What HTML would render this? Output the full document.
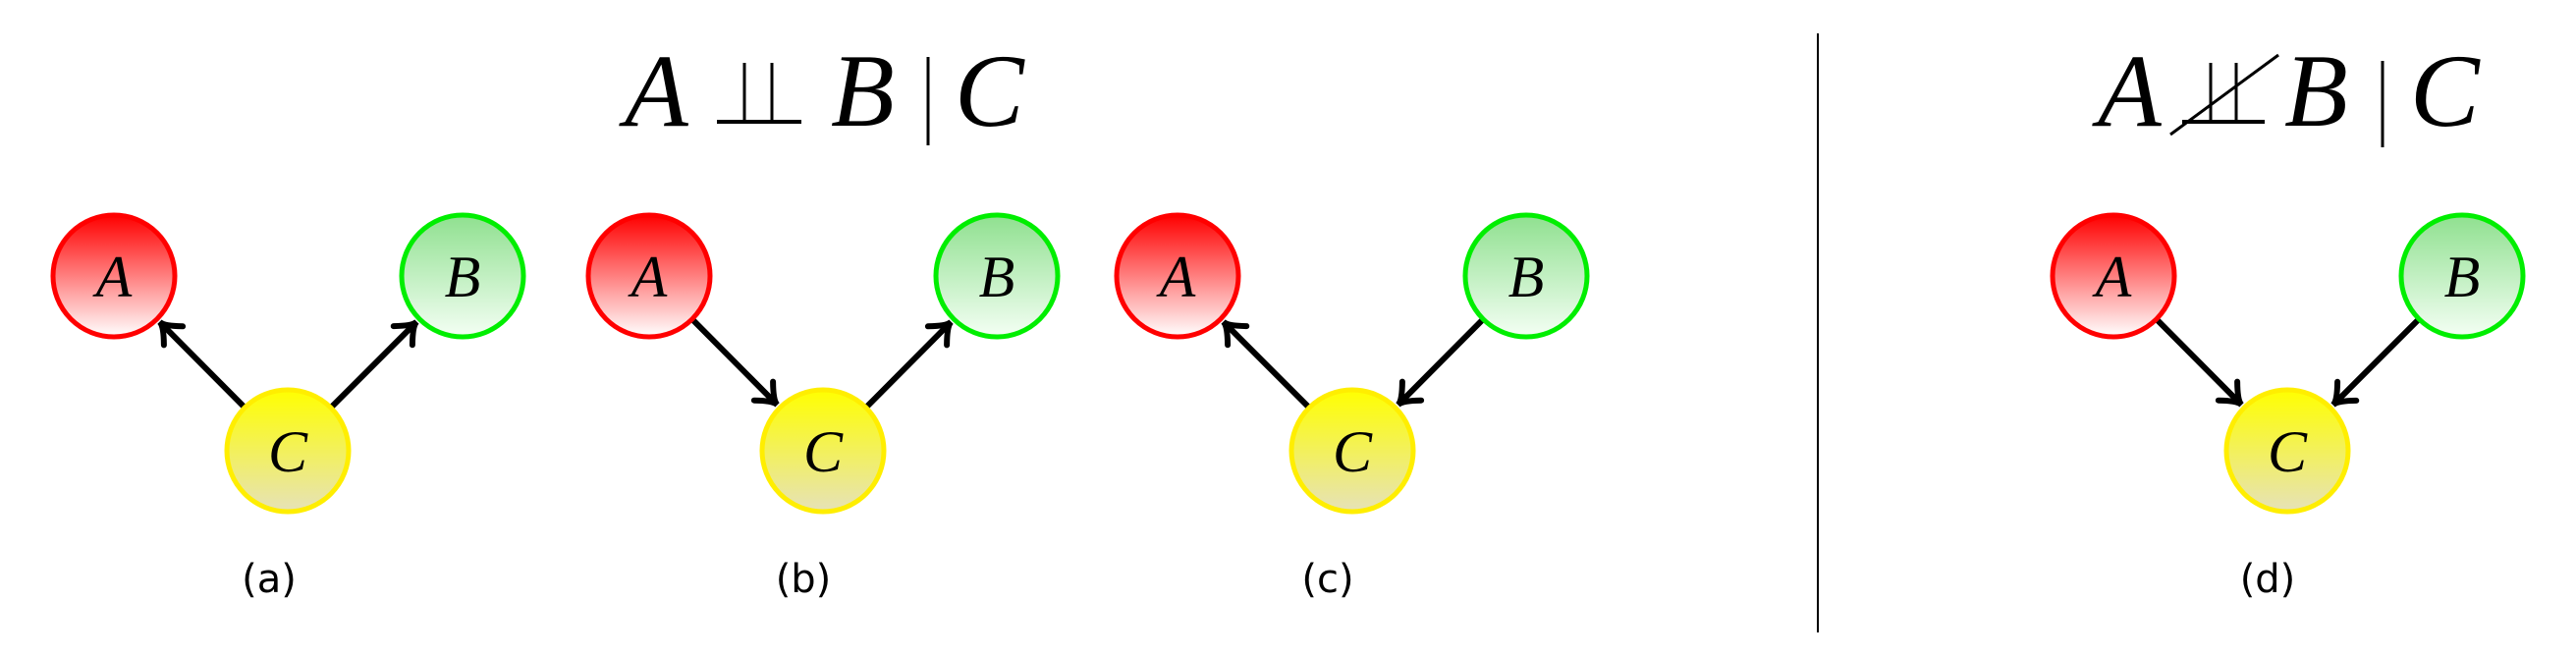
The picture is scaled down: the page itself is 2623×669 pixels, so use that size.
<!DOCTYPE html>
<html><head><meta charset="utf-8"><style>
html,body{margin:0;padding:0;background:#fff;}
svg{display:block;}
</style></head><body>
<svg id="fig" width="2623" height="669" viewBox="0 0 2623 669" xmlns="http://www.w3.org/2000/svg">
<defs>
<linearGradient id="gr" x1="0" y1="0" x2="0" y2="1"><stop offset="0" stop-color="#ff0000"/><stop offset="1" stop-color="#ffffff"/></linearGradient>
<linearGradient id="gg" x1="0" y1="0" x2="0" y2="1"><stop offset="0" stop-color="#8fe08f"/><stop offset="1" stop-color="#f4fff4"/></linearGradient>
<linearGradient id="gy" x1="0" y1="0" x2="0" y2="1"><stop offset="0" stop-color="#ffff00"/><stop offset="1" stop-color="#e6e2b8"/></linearGradient>
</defs>
<g font-family="Liberation Serif, serif" font-style="italic" font-size="106" fill="#000">
<text x="636" y="128">A</text>
<line x1="758" y1="64" x2="758" y2="124" stroke="#000" stroke-width="3"/>
<line x1="786" y1="64" x2="786" y2="124" stroke="#000" stroke-width="3"/>
<line x1="730" y1="124" x2="816" y2="124" stroke="#000" stroke-width="4"/>
<text x="846" y="128">B</text>
<line x1="945" y1="58" x2="945" y2="148" stroke="#000" stroke-width="3"/>
<text x="972" y="128">C</text>
</g>
<g font-family="Liberation Serif, serif" font-style="italic" font-size="106" fill="#000">
<text x="2136" y="128">A</text>
<line x1="2251" y1="64" x2="2251" y2="124" stroke="#000" stroke-width="3"/>
<line x1="2277" y1="64" x2="2277" y2="124" stroke="#000" stroke-width="3"/>
<line x1="2222" y1="124" x2="2306" y2="124" stroke="#000" stroke-width="4"/>
<line x1="2210" y1="137" x2="2320" y2="56" stroke="#000" stroke-width="3"/>
<text x="2326" y="128">B</text>
<line x1="2426" y1="62" x2="2426" y2="150" stroke="#000" stroke-width="3"/>
<text x="2454" y="128">C</text>
</g>
<line x1="1851" y1="34" x2="1851" y2="644" stroke="#000" stroke-width="2"/>
<g id="graphs"></g>
</svg>
<script>
const panels = ['(a)','(b)','(c)','(d)'];
const ax = [116, 661, 1199, 2152];
const bx = [471, 1015, 1554, 2507];
const cx = [293, 838, 1377, 2329];
const labelX = [274, 818, 1352, 2309];
// edge directions: 1 = from C to node, -1 = from node to C
const edgeA = [1, -1, 1, -1];
const edgeB = [1, 1, -1, -1];
const topY = 281, botY = 459, R = 62;
const NS = 'http://www.w3.org/2000/svg';
const root = document.getElementById('graphs');
function mk(t, attrs, parent){ const e = document.createElementNS(NS, t); for (const k in attrs) e.setAttribute(k, attrs[k]); parent.appendChild(e); return e; }
function arrow(g, x1, y1, x2, y2, name){
  const dx = x2-x1, dy = y2-y1, L = Math.hypot(dx,dy), ux = dx/L, uy = dy/L;
  const sx = x1+ux*(R+2), sy = y1+uy*(R+2), ex = x2-ux*(R+4), ey = y2-uy*(R+4);
  const a = mk('g', {}, g);
  
  
  mk('line', {x1:sx, y1:sy, x2:ex, y2:ey, stroke:'#000', 'stroke-width':6}, a);
  const h = 24, w = 0.6;
  const p = (ang)=>[ex - h*(ux*Math.cos(ang) - uy*Math.sin(ang)), ey - h*(uy*Math.cos(ang) + ux*Math.sin(ang))];
  const p1 = p(w), p2 = p(-w);
  mk('path', {d:`M${p1[0]},${p1[1]} Q${ex-ux*6},${ey-uy*6} ${ex},${ey} Q${ex-ux*6},${ey-uy*6} ${p2[0]},${p2[1]}`, fill:'none', stroke:'#000', 'stroke-width':6, 'stroke-linecap':'round'}, a);
}
function node(g, x, y, fill, stroke, letter, name){
  const n = mk('g', {}, g);
  
  
  mk('circle', {cx:x, cy:y, r:R, fill:fill, stroke:stroke, 'stroke-width':5}, n);
  const t = mk('text', {x:x, y:y+21, 'text-anchor':'middle', 'font-family':'Liberation Serif, serif', 'font-style':'italic', 'font-size':60, fill:'#000'}, n);
  t.textContent = letter;
}
for (let i = 0; i < panels.length; i++){
  const g = mk('g', {}, root);
  
  
  if (edgeA[i] > 0) arrow(g, cx[i], botY, ax[i], topY, 'edge-c-to-a'); else arrow(g, ax[i], topY, cx[i], botY, 'edge-a-to-c');
  if (edgeB[i] > 0) arrow(g, cx[i], botY, bx[i], topY, 'edge-c-to-b'); else arrow(g, bx[i], topY, cx[i], botY, 'edge-b-to-c');
  node(g, ax[i], topY, 'url(#gr)', '#ff0000', 'A', 'node-a');
  node(g, bx[i], topY, 'url(#gg)', '#00ee00', 'B', 'node-b');
  node(g, cx[i], botY, 'url(#gy)', '#ffee00', 'C', 'node-c');
  const lb = mk('text', {x:labelX[i], y:603, 'text-anchor':'middle', 'font-family':'DejaVu Sans, sans-serif', 'font-size':40, fill:'#000'}, g);
  
  
  lb.textContent = panels[i];
}
</script>
</body></html>
